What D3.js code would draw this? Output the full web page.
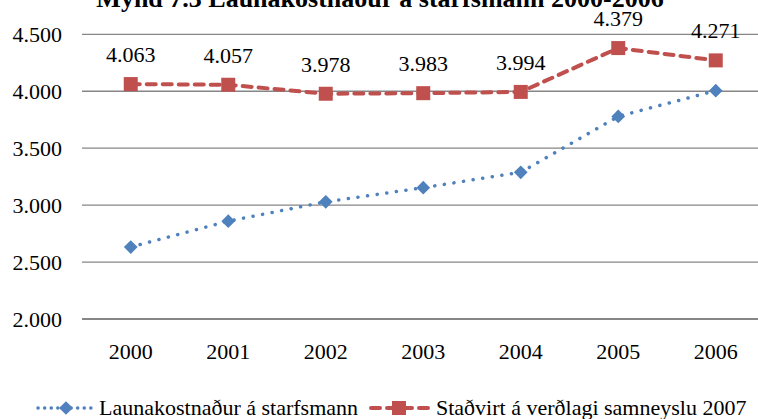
<!DOCTYPE html>
<html>
<head>
<meta charset="utf-8">
<script src="https://cdn.jsdelivr.net/npm/d3@7"></script>
</head>
<body style="margin:0">
<script>
// Data
const years = ["2000", "2001", "2002", "2003", "2004", "2005", "2006"];
const launakostnadur = [2632, 2859, 3029, 3153, 3288, 3779, 4005];
const stadvirt = [4063, 4057, 3978, 3983, 3994, 4379, 4271];
const yTicks = [2000, 2500, 3000, 3500, 4000, 4500];
const seriesNames = ["Launakostnaður á starfsmann", "Staðvirt á verðlagi samneyslu 2007"];
const title = "Mynd 7.3 Launakostnaður á starfsmann 2000-2006";

const width = 758, height = 419;
const blue = "#4F81BD", red = "#C0504D";
const serif = "Liberation Serif";
const fs = 22;

const svg = d3.select("body").append("svg")
  .attr("width", width)
  .attr("height", height)
  .style("display", "block");

const x = d3.scaleBand().domain(years).range([82, 82 + 7 * 97.5]);
const y = d3.scaleLinear().domain([2000, 4500]).range([319, 34.3]);
const fmt = v => d3.format(",")(v).replace(/,/g, ".");
const cx = d => x(d) + x.bandwidth() / 2;

// title (cut off at top, as in the source)
svg.append("text")
  .attr("x", 380).attr("y", 7)
  .attr("text-anchor", "middle")
  .attr("font-family", serif)
  .attr("font-size", 26).attr("font-weight", "bold")
  .attr("fill", "#000")
  .text(title);

// gridlines
svg.append("g").selectAll("line").data(yTicks).join("line")
  .attr("x1", 82).attr("x2", width)
  .attr("y1", d => y(d)).attr("y2", d => y(d))
  .attr("stroke", "#868686").attr("stroke-width", d => d === 2000 ? 2 : 1.3);

// y axis labels
const yAxis = d3.axisLeft(y).tickValues(yTicks).tickFormat(fmt).tickSize(0).tickPadding(0);
svg.append("g").attr("transform", "translate(62,0)").call(yAxis)
  .attr("font-family", serif).attr("font-size", fs)
  .call(g => g.select(".domain").remove())
  .call(g => g.selectAll("text").attr("font-family", serif).attr("font-size", fs).attr("fill", "#000"));

// x axis labels
const xAxis = d3.axisBottom(x).tickSize(0).tickPadding(0);
svg.append("g").attr("transform", "translate(0,343)").call(xAxis)
  .attr("font-family", serif).attr("font-size", fs)
  .call(g => g.select(".domain").remove())
  .call(g => g.selectAll("text").attr("font-family", serif).attr("font-size", fs).attr("fill", "#000"));

const line = d3.line().x((d, i) => cx(years[i])).y(d => y(d));

// blue dotted
svg.append("path").datum(launakostnadur)
  .attr("d", line).attr("fill", "none")
  .attr("stroke", blue).attr("stroke-width", 3.5)
  .attr("stroke-linecap", "round").attr("stroke-dasharray", "0.1 9.6");

// red dashed
svg.append("path").datum(stadvirt)
  .attr("d", line).attr("fill", "none")
  .attr("stroke", red).attr("stroke-width", 4)
  .attr("stroke-linecap", "round").attr("stroke-dasharray", "9 7");

const diamond = d3.symbol().type(d3.symbolDiamond2).size(120);
svg.append("g").selectAll("path").data(launakostnadur).join("path")
  .attr("d", diamond)
  .attr("transform", (d, i) => `translate(${cx(years[i])},${y(d)})`)
  .attr("fill", blue);

svg.append("g").selectAll("rect").data(stadvirt).join("rect")
  .attr("x", (d, i) => cx(years[i]) - 7).attr("y", d => y(d) - 7)
  .attr("width", 14).attr("height", 14)
  .attr("fill", red);

// data labels for red series
svg.append("g").selectAll("text").data(stadvirt).join("text")
  .attr("x", (d, i) => cx(years[i]))
  .attr("y", d => y(d) - 22)
  .attr("text-anchor", "middle")
  .attr("font-family", serif)
  .attr("font-size", fs).attr("fill", "#000")
  .text(fmt);

// legend
const leg = svg.append("g").attr("transform", "translate(0,408)");
leg.append("line").attr("x1", 38).attr("x2", 92).attr("y1", 0).attr("y2", 0)
  .attr("stroke", blue).attr("stroke-width", 3.5)
  .attr("stroke-linecap", "round").attr("stroke-dasharray", "0.1 6.5");
leg.append("path").attr("d", diamond).attr("transform", "translate(66,0)").attr("fill", blue);
leg.append("text").attr("x", 99).attr("y", 7).attr("font-family", serif).attr("font-size", fs).text(seriesNames[0]);

leg.append("line").attr("x1", 371).attr("x2", 429).attr("y1", 0).attr("y2", 0)
  .attr("stroke", red).attr("stroke-width", 4)
  .attr("stroke-linecap", "round").attr("stroke-dasharray", "9 7");
leg.append("rect").attr("x", 392).attr("y", -7).attr("width", 14).attr("height", 14).attr("fill", red);
leg.append("text").attr("x", 436).attr("y", 7).attr("font-family", serif).attr("font-size", fs).text(seriesNames[1]);
</script>
</body>
</html>
